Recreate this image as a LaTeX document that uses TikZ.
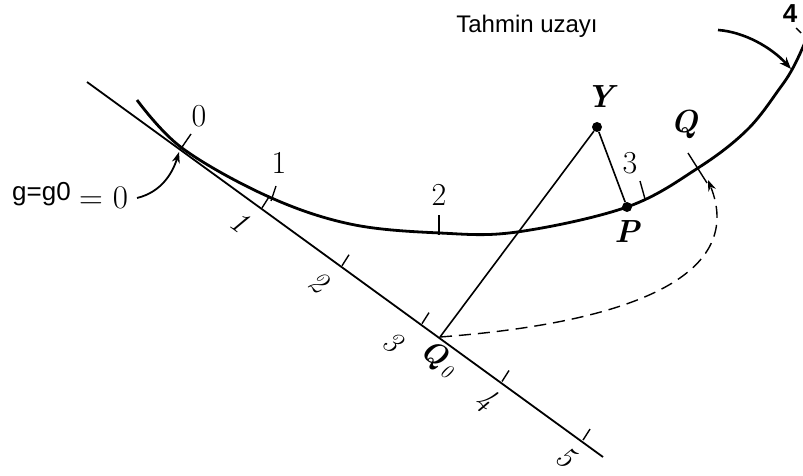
\documentclass[tikz,border=0pt]{standalone}
\usepackage{fontspec}
\newfontfamily\arialf{Liberation Sans}
\usetikzlibrary{arrows.meta}
\begin{document}
\begin{tikzpicture}[x=1pt,y=-1pt,
  digit/.style={inner sep=0pt,font=\fontsize{32}{34}\selectfont},
  ldigit/.style={digit,rotate=-36,font=\fontsize{31}{33}\selectfont\itshape},
  letter/.style={inner sep=0pt,font=\fontsize{32}{34}\selectfont\bfseries\itshape},
  tickmark/.style={line width=1.4pt},
  curveline/.style={line width=2.8pt},
  axisline/.style={line width=1.8pt},
  dot/.style={circle,fill=black,inner sep=0pt,minimum size=10pt}]
\useasboundingbox (0,0) rectangle (803,476);
% straight tangent line
\coordinate (L0) at (87,82);
\coordinate (L1) at (603,457);
\draw[axisline] (L0) -- (L1);
% ticks on the line
\foreach \x/\n in {262/1,342/2,422/3,502/4,583/5}{
  \coordinate (t\n) at (\x,{82+0.7234*(\x-88)});
  \draw[tickmark] (t\n) -- ++(7,-11);
}
\node[ldigit] (l1) at (240,222) {1};
\node[ldigit] (l2) at (319,282) {2};
\node[ldigit] (l3) at (393,342) {3};
\node[ldigit] (l4) at (486,400) {4};
\node[ldigit] (l5) at (566,457) {5};
% the curve
\draw[curveline] plot[smooth,tension=0.6] coordinates
 {(137,100) (182,148) (267,196) (350,224) (440,233) (517,232) (627,207) (698,168) (747,130) (780,88) (794,66) (806,40)};
% ticks on the curve
\draw[tickmark] (191,134) -- (180,150);
\draw[tickmark] (276,186) -- (271,201);
\draw[tickmark] (439,215) -- (439,235);
\draw[tickmark] (640,181) -- (645,199);
\draw[tickmark] (688,153) -- (707,183);
\draw[tickmark] (796,28) -- (801,33);
\node[digit] (c0) at (199,116) {0};
\node[digit] (c1) at (279,163) {1};
\node[digit] (c2) at (439,195) {2};
\node[digit] (c3) at (630,163) {3};
\node[digit,font=\arialf\bfseries\fontsize{26}{28}\selectfont] (c4) at (790,14) {4};
% points
\node[dot] (Y) at (597,127) {};
\node[dot] (P) at (627,207) {};
\coordinate (Q0) at (440,337);
\coordinate (Q) at (701,172);
\node[letter] (Ylab) at (600,97) {Y};
\node[letter] (Plab) at (627,232) {P};
\node[letter] (Qlab) at (684,124) {Q};
\node[inner sep=0pt,rotate=-30,font=\fontsize{30}{32}\selectfont\bfseries\itshape] (Q0lab) at (438,359) {Q\kern2pt\textmd{\fontsize{20}{22}\selectfont\raisebox{-6pt}{0}}};
\draw[line width=1.6pt] (Y) -- (Q0);
\draw[line width=1.6pt] (Y) -- (P);
% dashed arrow Q0 -> Q
\draw[line width=1.4pt,dash pattern=on 12pt off 7pt,-{Stealth[length=11pt,width=8pt]}]
  (Q0) .. controls (640,322) and (745,272) .. (708,180);
% text labels
\node[inner sep=0pt,font=\arialf\fontsize{24}{26}\selectfont] (title) at (527,26) {Tahmin uzayı};
\node[inner sep=0pt,anchor=west,font=\arialf\fontsize{26}{28}\selectfont] (g) at (12,194) {g=g0};
\node[inner sep=0pt,anchor=west,font=\fontsize{33}{35}\selectfont] (eq) at (79,198) {= 0};
% arrows
\coordinate (gA) at (137,198);
\coordinate (gB) at (179,152);
\draw[line width=1.8pt,-{Stealth[length=11pt,width=8pt]}] (gA) .. controls (162,192) and (173,172) .. (gB);
\coordinate (tA) at (718,30);
\coordinate (tB) at (791,69);
\draw[line width=2.6pt,-{Stealth[length=12pt,width=9pt]}] (tA) .. controls (745,32) and (772,48) .. (tB);
\end{tikzpicture}
\end{document}
